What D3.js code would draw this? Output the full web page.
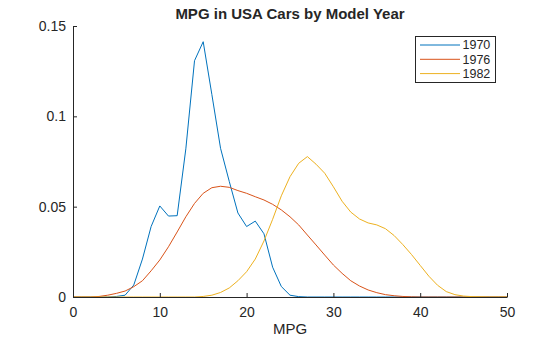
<!DOCTYPE html>
<html>
<head>
<meta charset="UTF-8">
<style>
  body { margin: 0; background: #fff; }
  text { font-family: "Liberation Sans", Arial, sans-serif; fill: #262626; }
</style>
</head>
<body>
<script src="https://d3js.org/d3.v7.min.js"></script>
<script>
// density estimates of MPG, sampled at whole MPG values 0..50
var mpg = d3.range(0, 51);
var years = ['1970', '1976', '1982'];
var colors = ['#0072bd', '#d95319', '#edb120'];

var dens1970 = [0, 0, 0, 0, 0, 0.0003, 0.001, 0.0066, 0.021, 0.039,
  0.0504, 0.0448, 0.045, 0.082, 0.1308, 0.1413, 0.112, 0.0823, 0.064, 0.0465,
  0.039, 0.042, 0.035, 0.0165, 0.0058, 0.001, 0.0002, 0, 0, 0,
  0, 0, 0, 0, 0, 0, 0, 0, 0, 0,
  0, 0, 0, 0, 0, 0, 0, 0, 0, 0, 0];
var dens1976 = [0, 0, 0, 0.0003, 0.001, 0.002, 0.0033, 0.0057, 0.009, 0.0145,
  0.0205, 0.0278, 0.036, 0.0444, 0.0518, 0.0574, 0.0605, 0.0613, 0.0607, 0.0589,
  0.0574, 0.0555, 0.0537, 0.0513, 0.0482, 0.0444, 0.0399, 0.0343, 0.0288, 0.0232,
  0.0177, 0.0131, 0.009, 0.0061, 0.0039, 0.0024, 0.0013, 0.0007, 0.0003, 0.0001,
  0, 0, 0, 0, 0, 0, 0, 0, 0, 0, 0];
var dens1982 = [0, 0, 0, 0, 0, 0, 0, 0, 0, 0,
  0, 0, 0, 0, 0, 0.0003, 0.001, 0.0025, 0.005, 0.009,
  0.014, 0.021, 0.031, 0.043, 0.056, 0.0666, 0.074, 0.0777, 0.0735, 0.0685,
  0.061, 0.053, 0.047, 0.0432, 0.041, 0.0399, 0.0378, 0.034, 0.029, 0.0235,
  0.0175, 0.0115, 0.0065, 0.003, 0.0013, 0.0005, 0.0002, 0.0001, 0, 0, 0];

var xTicks = [0, 10, 20, 30, 40, 50];
var yTicks = [0, 0.05, 0.1, 0.15];

var W = 560, H = 337;
var margin = {left: 73, right: 53, top: 26, bottom: 40};

var svg = d3.select('body').append('svg').attr('width', W).attr('height', H);

var x = d3.scaleLinear().domain([0, 50]).range([margin.left, W - margin.right]);
var y = d3.scaleLinear().domain([0, 0.15]).range([H - margin.bottom, margin.top]);

var series = [dens1970, dens1976, dens1982];

var line = d3.line()
  .x(function(d, i) { return x(mpg[i]); })
  .y(function(d) { return y(d); });

svg.selectAll('path.dens')
  .data(series).enter()
  .append('path')
    .attr('class', 'dens')
    .attr('d', line)
    .attr('fill', 'none')
    .attr('stroke', function(d, i) { return colors[i]; })
    .attr('stroke-width', 1);

// axes, ticks inward
var xAxis = svg.append('g')
  .attr('transform', 'translate(0,' + y(0) + ')')
  .call(d3.axisBottom(x).tickValues(xTicks).tickSizeInner(-4).tickSizeOuter(0).tickPadding(10));
var yAxis = svg.append('g')
  .attr('transform', 'translate(' + x(0) + ',0)')
  .call(d3.axisLeft(y).tickValues(yTicks).tickFormat(function(d) { return d; })
    .tickSizeInner(-4).tickSizeOuter(0).tickPadding(7));

[xAxis, yAxis].forEach(function(a) {
  a.select('.domain').attr('stroke', '#262626');
  a.selectAll('.tick line').attr('stroke', '#262626');
  a.selectAll('.tick text').style('font-size', '14px')
    .style('font-family', '"Liberation Sans", Arial, sans-serif').attr('fill', '#262626');
});

svg.append('text')
  .attr('x', (x(0) + x(50)) / 2).attr('y', 334)
  .attr('text-anchor', 'middle')
  .style('font-size', '15px')
  .text('MPG');

svg.append('text')
  .attr('x', (x(0) + x(50)) / 2).attr('y', 19)
  .attr('text-anchor', 'middle')
  .style('font-size', '15px').style('font-weight', 'bold')
  .text('MPG in USA Cars by Model Year');

// legend
var lg = svg.append('g').attr('transform', 'translate(415.5,36.5)');
lg.append('rect').attr('width', 80).attr('height', 46)
  .attr('fill', '#fff').attr('stroke', '#262626').attr('stroke-width', 1);
var row = lg.selectAll('g.row').data(years).enter().append('g')
  .attr('class', 'row')
  .attr('transform', function(d, i) { return 'translate(0,' + (8.5 + i * 14.3) + ')'; });
row.append('line').attr('x1', 4.5).attr('x2', 44.5)
  .attr('stroke', function(d, i) { return colors[i]; }).attr('stroke-width', 1);
row.append('text').attr('x', 47).attr('dy', '0.35em')
  .style('font-size', '12.5px').text(function(d) { return d; });
</script>
</body>
</html>
